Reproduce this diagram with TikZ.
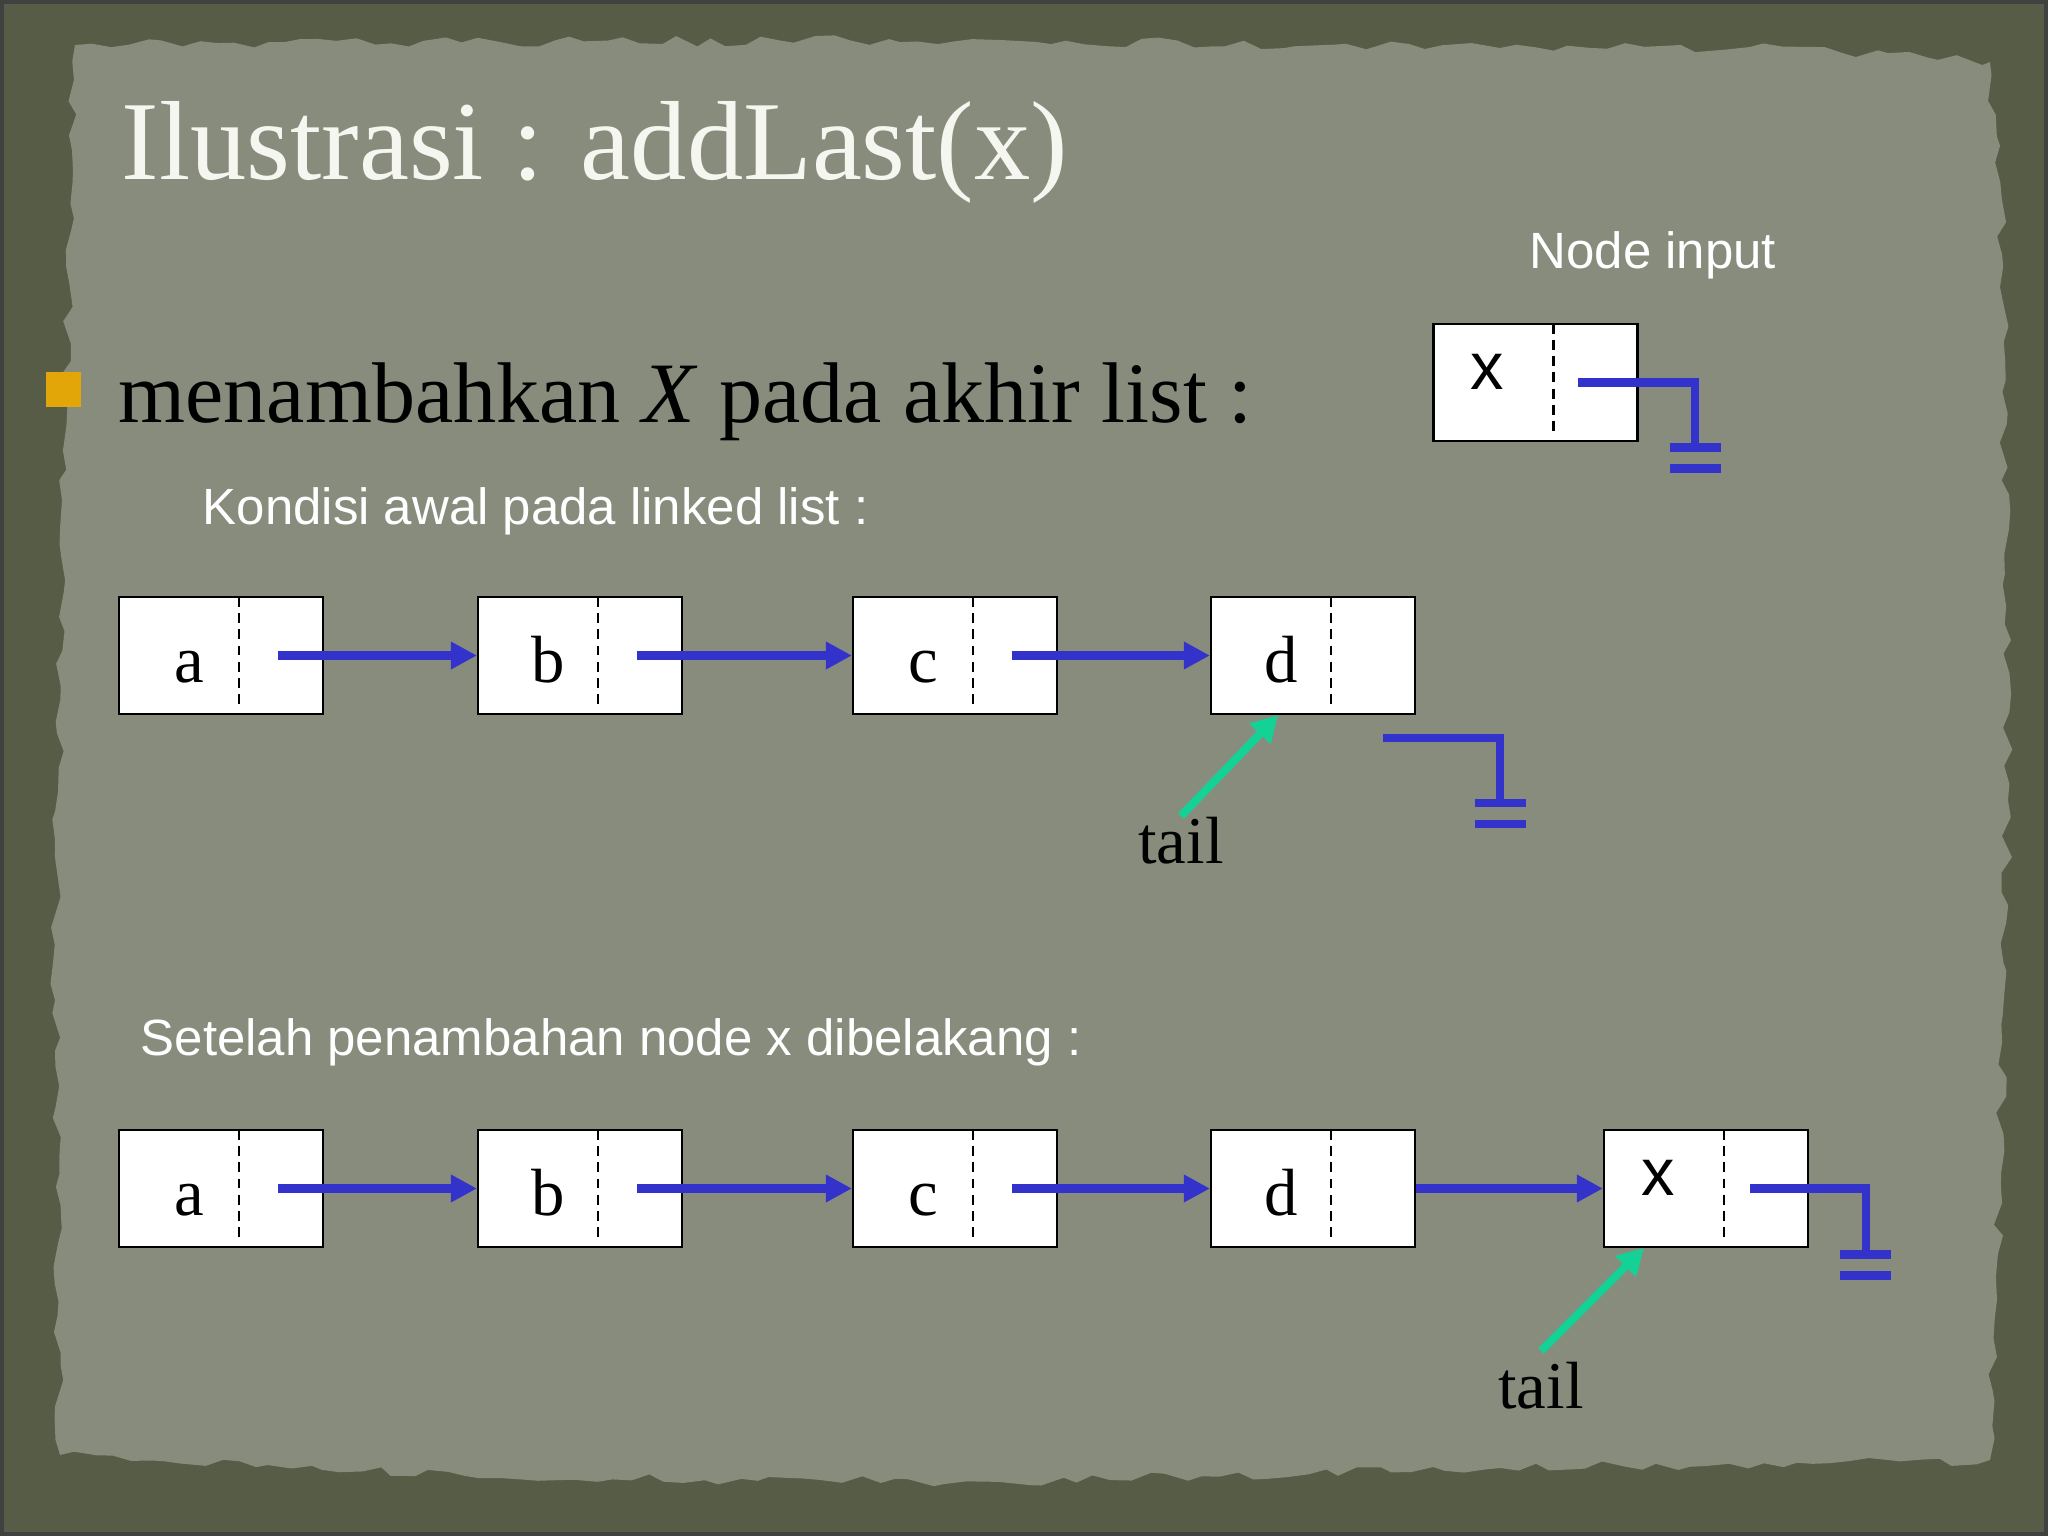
\documentclass[tikz,border=0pt]{standalone}
\usepackage{fontspec}
\setmainfont{Liberation Serif}
\setsansfont{Liberation Sans}
\usetikzlibrary{arrows.meta}
\usetikzlibrary{decorations.pathmorphing}
\definecolor{framecol}{RGB}{86,92,70}
\definecolor{papercol}{RGB}{136,140,125}
\definecolor{ptrblue}{RGB}{51,51,204}
\definecolor{tailgreen}{RGB}{20,210,150}
\definecolor{bulletcol}{RGB}{226,166,8}
\definecolor{titlecol}{RGB}{246,246,240}
\newcommand{\cval}[1]{\makebox[1.40cm]{#1}\makebox[0.64cm]{}}
\newcommand{\cvalx}[1]{\makebox[1.08cm]{#1}\makebox[0.96cm]{}}
\tikzset{
    divider/.style = {black, line width=0.6pt, dash pattern=on 2.8pt off 1.8pt},
    cell/.style = {rectangle, draw=black, line width=0.6pt, fill=white, minimum width=2.04cm, minimum height=1.17cm,
        inner sep=0pt, text height=0.855cm, text depth=0.315cm, font=\fontsize{19}{19}\selectfont,
        path picture={\draw[divider] ([xshift=1.2cm]path picture bounding box.north west) -- ([xshift=1.2cm,yshift=0.06cm]path picture bounding box.south west);}},
    cellx/.style = {cell, text height=0.655cm, text depth=0.515cm, font=\sffamily\fontsize{19}{19}\selectfont},
    titletext/.style = {anchor=base west, inner sep=0pt, text=titlecol, font=\fontsize{32}{38}\selectfont},
    bodytext/.style = {anchor=base west, inner sep=0pt, text=black, font=\fontsize{24.5}{29}\selectfont},
    labeltext/.style = {anchor=base west, inner sep=0pt, text=white, font=\sffamily\fontsize{14.5}{17}\selectfont},
    tailtext/.style = {anchor=base, inner sep=0pt, text=black, font=\fontsize{19}{19}\selectfont},
    edgen/.style = {-{Triangle[length=0.26cm,width=0.26cm]}, line width=2.3pt, ptrblue}, % next
    edget/.style = {-{Triangle[length=0.26cm,width=0.28cm]}, line width=2.3pt, tailgreen}, % tail
    nullp/.style = {line width=2.3pt, ptrblue}, % null
    ground/.pic = {\draw[nullp] (-0.255,0) -- (0.255,0) (-0.255,-0.21) -- (0.255,-0.21);}
}
\begin{document}
\begin{tikzpicture}
\useasboundingbox (0,0) rectangle (20.48,-15.36);
% background
\fill[framecol] (0,0) rectangle (20.48,-15.36);
\draw[black!75, line width=1pt] (0.02,-0.02) rectangle (20.46,-15.34);
\pgfmathsetseed{7}
\fill[papercol, decorate, decoration={random steps, segment length=5pt, amplitude=1.5pt}]
    (0.75,-0.45) -- (5,-0.42) -- (10,-0.40) -- (15,-0.48) -- (17.5,-0.47) -- (19.9,-0.62)
    -- (20.02,-2) -- (20.08,-8) -- (19.97,-13) -- (19.9,-14.6) -- (15,-14.68) -- (10,-14.82)
    -- (5,-14.78) -- (0.6,-14.55) -- (0.55,-10) -- (0.62,-5) -- (0.72,-1.5) -- cycle;
%
\node[titletext] at (1.21,-1.80) (title) {Ilustrasi : addLast(x)};
\node[fill=bulletcol, minimum size=0.35cm, inner sep=0pt] at (0.635,-3.895) (bullet) {};
\node[bodytext] at (1.18,-4.22) (intro) {menambahkan \textit{X} pada akhir list :};
\node[labeltext] at (15.29,-2.69) (inlabel) {Node input};
\node[labeltext] at (2.02,-5.25) (before) {Kondisi awal pada linked list :};
\node[labeltext] at (1.40,-10.55) (after) {Setelah penambahan node x dibelakang :};
%
\node[cellx] at (15.355,-3.825) (xin) {\cvalx{x}};
%
\node[cell] at (2.21,-6.555) (a1) {\cval{a}};
\node[cell] at (5.80,-6.555) (b1) {\cval{b}};
\node[cell] at (9.55,-6.555) (c1) {\cval{c}};
\node[cell] at (13.13,-6.555) (d1) {\cval{d}};
\node[tailtext] at (11.81,-8.63) (tail1) {tail};
\coordinate (d1null) at (13.83,-7.38);
%
\node[cell] at (2.21,-11.885) (a2) {\cval{a}};
\node[cell] at (5.80,-11.885) (b2) {\cval{b}};
\node[cell] at (9.55,-11.885) (c2) {\cval{c}};
\node[cell] at (13.13,-11.885) (d2) {\cval{d}};
\node[cellx] at (17.06,-11.885) (x2) {\cvalx{x}};
\node[tailtext] at (15.41,-14.08) (tail2) {tail};
%
\draw[nullp] ([xshift=1.46cm]xin.west) -| ++(1.17,-0.65) pic {ground};
%
\draw[edgen] ([xshift=1.6cm]a1.west) -- (b1);
\draw[edgen] ([xshift=1.6cm]b1.west) -- (c1);
\draw[edgen] ([xshift=1.6cm]c1.west) -- (d1);
\draw[nullp] (d1null) -| ++(1.17,-0.65) pic {ground};
\draw[edget] (tail1.north) -- ([xshift=0.68cm]d1.south west);
%
\draw[edgen] ([xshift=1.6cm]a2.west) -- (b2);
\draw[edgen] ([xshift=1.6cm]b2.west) -- (c2);
\draw[edgen] ([xshift=1.6cm]c2.west) -- (d2);
\draw[edgen] (d2) -- (x2);
\draw[nullp] ([xshift=1.47cm]x2.west) -| ++(1.16,-0.66) pic {ground};
\draw[edget] ([yshift=0.1cm]tail2.north) -- ([xshift=0.41cm]x2.south west);
\end{tikzpicture}
\end{document}
